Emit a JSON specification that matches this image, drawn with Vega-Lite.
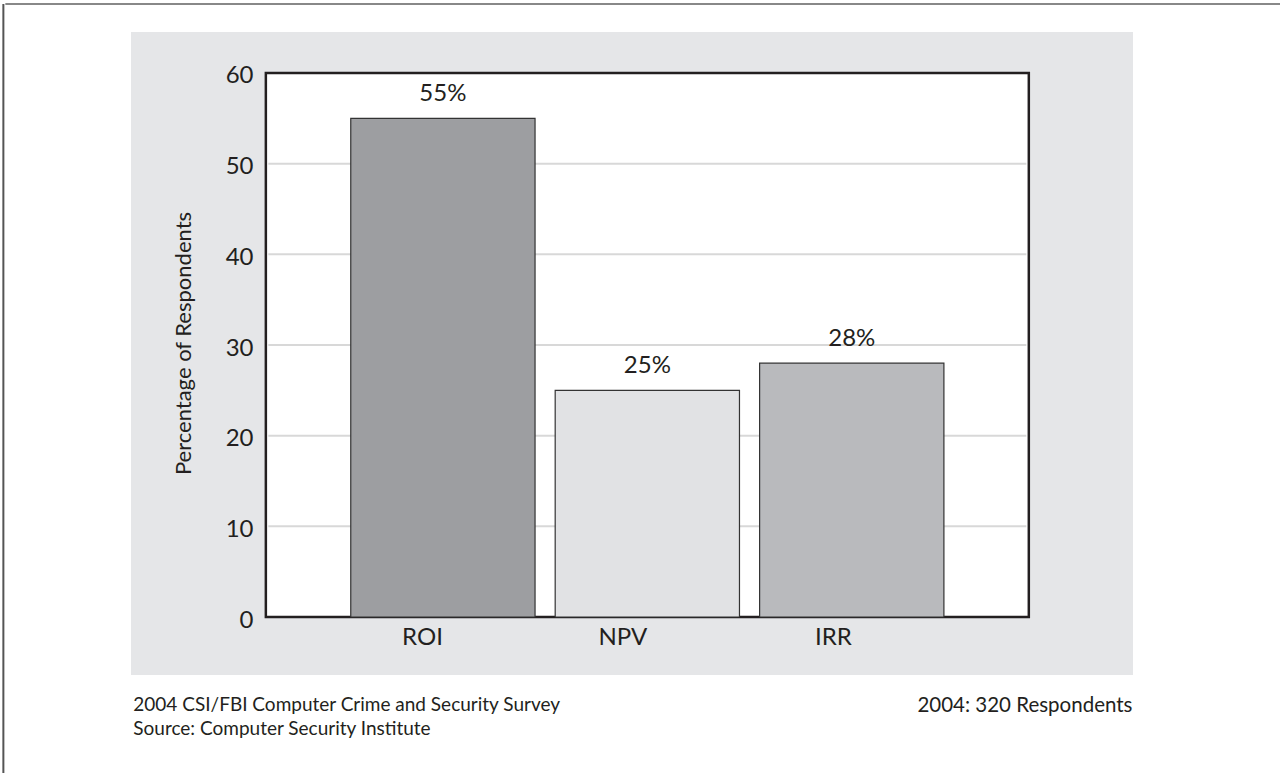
{
  "$schema": "https://vega.github.io/schema/vega-lite/v6.json",
  "autosize": "none",
  "width": 1002,
  "height": 643,
  "padding": {"left": 131, "top": 32, "right": 147, "bottom": 98},
  "background": "white",
  "config": {"view": {"fill": "#e5e6e8", "stroke": null}, "font": "Lato"},
  "datasets": {
    "bars": [
      {"method": "ROI", "pct": 55},
      {"method": "NPV", "pct": 25},
      {"method": "IRR", "pct": 28}
    ],
    "grid": [{"g": 10}, {"g": 20}, {"g": 30}, {"g": 40}, {"g": 50}],
    "one": [{"k": 1}]
  },
  "layer": [
    {
      "data": {"name": "one"},
      "mark": {"type": "rect", "fill": "white", "stroke": "#231f20", "strokeWidth": 2.5, "width": {"band": 4.14}},
      "encoding": {
        "x": {"datum": "NPV", "type": "nominal", "scale": {"type": "band", "domain": ["ROI", "NPV", "IRR"], "paddingInner": 0.0985, "paddingOuter": 1.0172, "align": 0.5375}},
        "y": {"datum": 0, "type": "quantitative", "scale": {"domain": [-6.397, 64.522], "nice": false, "zero": false}},
        "y2": {"datum": 60}
      }
    },
    {
      "data": {"name": "grid"},
      "mark": {"type": "tick", "color": "#c8c8c8", "thickness": 2, "size": 758, "orient": "horizontal"},
      "encoding": {
        "x": {"datum": "NPV", "type": "nominal", "scale": {"type": "band", "domain": ["ROI", "NPV", "IRR"], "paddingInner": 0.0985, "paddingOuter": 1.0172, "align": 0.5375}},
        "y": {"field": "g", "type": "quantitative", "scale": {"domain": [-6.397, 64.522], "nice": false, "zero": false}}
      }
    },
    {
      "data": {"name": "bars"},
      "mark": {"type": "bar", "stroke": "#333333", "strokeWidth": 1.2},
      "encoding": {
        "x": {
          "field": "method", "type": "nominal", "sort": null,
          "scale": {"type": "band", "domain": ["ROI", "NPV", "IRR"], "paddingInner": 0.0985, "paddingOuter": 1.0172, "align": 0.5375},
          "axis": {
            "offset": -58, "domain": false, "ticks": false, "grid": false,
            "labelPadding": 20, "labelFont": "Lato", "labelFontSize": 24, "labelColor": "#231f20", "labelAngle": 0,
            "title": "2004: 320 Respondents", "titleFont": "Lato", "titleFontSize": 20.5, "titleFontWeight": "normal", "titleColor": "#231f20",
            "titleX": 1001, "titleY": 88, "titleAlign": "right", "titleBaseline": "middle", "titleAnchor": null
          }
        },
        "y": {
          "field": "pct", "type": "quantitative",
          "scale": {"domain": [-6.397, 64.522], "nice": false, "zero": false},
          "axis": {
            "values": [0, 10, 20, 30, 40, 50, 60], "offset": -135, "domain": false, "ticks": false, "grid": false,
            "labelPadding": 13, "labelFont": "Lato", "labelFontSize": 24, "labelColor": "#231f20", "labelOffset": 3,
            "title": "Percentage of Respondents", "titleFont": "Lato", "titleFontSize": 22, "titleFontWeight": "normal", "titleColor": "#231f20",
            "titleX": -83, "titleY": 311, "titleAlign": "center", "titleBaseline": "middle", "titleAngle": -90
          }
        },
        "color": {
          "field": "method", "type": "nominal",
          "scale": {"domain": ["ROI", "NPV", "IRR"], "range": ["#9d9ea1", "#e1e2e4", "#b9babd"]},
          "legend": null
        }
      }
    },
    {
      "data": {"name": "bars"},
      "transform": [{"calculate": "datum.pct + '%'", "as": "label"}],
      "mark": {"type": "text", "font": "Lato", "fontSize": 24, "color": "#231f20", "baseline": "alphabetic", "dy": -17},
      "encoding": {
        "x": {"field": "method", "type": "nominal", "scale": {"type": "band", "domain": ["ROI", "NPV", "IRR"], "paddingInner": 0.0985, "paddingOuter": 1.0172, "align": 0.5375}},
        "y": {"field": "pct", "type": "quantitative", "scale": {"domain": [-6.397, 64.522], "nice": false, "zero": false}},
        "text": {"field": "label"}
      }
    },
    {
      "data": {"name": "one"},
      "mark": {"type": "text", "font": "Lato", "fontSize": 19, "color": "#231f20", "align": "left", "baseline": "middle", "lineHeight": 24},
      "encoding": {
        "x": {"datum": "ROI", "type": "nominal", "bandPosition": -1.18, "scale": {"type": "band", "domain": ["ROI", "NPV", "IRR"], "paddingInner": 0.0985, "paddingOuter": 1.0172, "align": 0.5375}},
        "y": {"datum": -9.706, "type": "quantitative", "scale": {"domain": [-6.397, 64.522], "nice": false, "zero": false}},
        "text": {"value": ["2004 CSI/FBI Computer Crime and Security Survey", "Source: Computer Security Institute"]}
      }
    },
    {
      "data": {"name": "one"},
      "mark": {"type": "tick", "color": "#555555", "thickness": 2, "size": 1284, "orient": "horizontal"},
      "encoding": {
        "x": {"datum": "NPV", "type": "nominal", "scale": {"type": "band", "domain": ["ROI", "NPV", "IRR"], "paddingInner": 0.0985, "paddingOuter": 1.0172, "align": 0.5375}},
        "y": {"datum": 67.61, "type": "quantitative", "scale": {"domain": [-6.397, 64.522], "nice": false, "zero": false}}
      }
    },
    {
      "data": {"name": "one"},
      "mark": {"type": "rule", "color": "#555555", "strokeWidth": 2},
      "encoding": {
        "x": {"datum": "ROI", "type": "nominal", "bandPosition": -1.885, "scale": {"type": "band", "domain": ["ROI", "NPV", "IRR"], "paddingInner": 0.0985, "paddingOuter": 1.0172, "align": 0.5375}},
        "y": {"datum": 67.61, "type": "quantitative", "scale": {"domain": [-6.397, 64.522], "nice": false, "zero": false}},
        "y2": {"datum": -17.3}
      }
    }
  ]
}
